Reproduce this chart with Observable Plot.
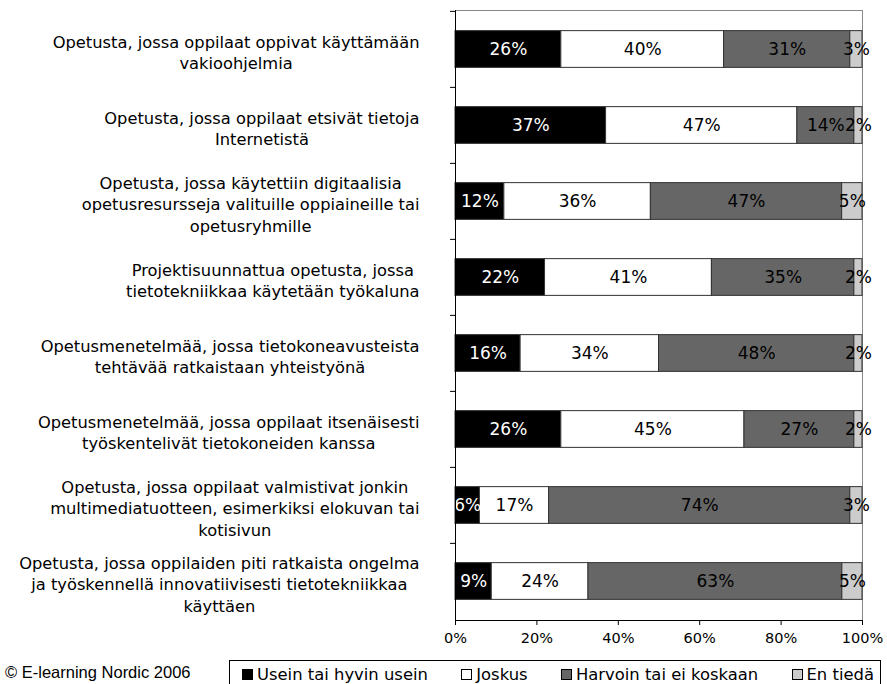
<!DOCTYPE html>
<html>
<head>
<meta charset="utf-8">
<script src="https://cdn.jsdelivr.net/npm/d3@7"></script>
<script src="https://cdn.jsdelivr.net/npm/@observablehq/plot@0.6"></script>
<style>
  html, body { margin: 0; padding: 0; background: #fff; }
  body { width: 887px; height: 684px; overflow: hidden; font-family: "DejaVu Sans", Verdana, sans-serif; }
  #chart svg { display: block; }
  #foot { position: relative; height: 32px; }
  #caption { position: absolute; left: 5px; top: 11px; line-height: 19px; font-size: 16.5px; font-family: "Liberation Sans", Arial, sans-serif; color: #000; white-space: nowrap; }
  #legend { position: absolute; left: 229px; top: 8px; width: 652px; height: 28px; border: 1px solid #000; box-sizing: border-box; display: flex; align-items: center; justify-content: space-between; font-size: 16.4px; padding-left: 12px; padding-right: 6px; }
  .item { display: flex; align-items: center; white-space: nowrap; }
  .sw { width: 11px; height: 11px; border: 1px solid #000; margin-right: 4px; box-sizing: border-box; }
</style>
</head>
<body>
<div id="chart"></div>
<div id="foot">
  <div id="caption">© E-learning Nordic 2006</div>
  <div id="legend"></div>
</div>
<script>
const categories = [
  "Opetusta, jossa oppilaat oppivat käyttämään\nvakioohjelmia",
  "Opetusta, jossa oppilaat etsivät tietoja\nInternetistä",
  "Opetusta, jossa käytettiin digitaalisia\nopetusresursseja valituille oppiaineille tai\nopetusryhmille",
  "Projektisuunnattua opetusta, jossa\ntietotekniikkaa käytetään työkaluna",
  "Opetusmenetelmää, jossa tietokoneavusteista\ntehtävää ratkaistaan yhteistyönä",
  "Opetusmenetelmää, jossa oppilaat itsenäisesti\ntyöskentelivät tietokoneiden kanssa",
  "Opetusta, jossa oppilaat valmistivat jonkin\nmultimediatuotteen, esimerkiksi elokuvan tai\nkotisivun",
  "Opetusta, jossa oppilaiden piti ratkaista ongelma\nja työskennellä innovatiivisesti tietotekniikkaa\nkäyttäen"
];
const seriesNames = ["Usein tai hyvin usein", "Joskus", "Harvoin tai ei koskaan", "En tiedä"];
const usein   = [26, 37, 12, 22, 16, 26, 6, 9];
const joskus  = [40, 47, 36, 41, 34, 45, 17, 24];
const harvoin = [31, 14, 47, 35, 48, 27, 74, 63];
const entieda = [3, 2, 5, 2, 2, 2, 3, 5];
const xTicks = [0, 0.2, 0.4, 0.6, 0.8, 1];
const colors = ["#000000", "#ffffff", "#666666", "#cccccc"];
const textColors = ["#ffffff", "#000000", "#000000", "#000000"];

const seriesValues = [usein, joskus, harvoin, entieda];
const data = [];
categories.forEach((c, i) => {
  seriesNames.forEach((s, j) => {
    data.push({cat: c, series: s, value: seriesValues[j][i], tcolor: textColors[j]});
  });
});

const W = 887, H = 652, ML = 455, MR = 25, MT = 10, MB = 32;
const step = (H - MT - MB) / categories.length;
const barH = 37;
const inset = (step - barH) / 2;
const fontFam = '"DejaVu Sans", Verdana, sans-serif';
const labelSize = 16.3;

const ctx = document.createElement("canvas").getContext("2d");
ctx.font = labelSize + "px " + fontFam;
const labelMarks = categories.map(c => {
  const w = Math.max(...c.split("\n").map(l => ctx.measureText(l).width));
  return Plot.text([c], {
    x: () => 0, y: d => d, text: d => d,
    textAnchor: "middle", lineAnchor: "middle", lineHeight: 1.32,
    dx: -(36 + w / 2), dy: 2, fontSize: labelSize, fill: "#000"
  });
});

const chart = Plot.plot({
  width: W, height: H,
  marginLeft: ML, marginRight: MR, marginTop: MT, marginBottom: MB,
  style: {fontFamily: fontFam, fontSize: "14.5px", overflow: "visible"},
  x: {domain: [0, 1], axis: null, label: null},
  y: {domain: categories, padding: 0, axis: null, label: null},
  color: {domain: seriesNames, range: colors},
  marks: [
    Plot.frame({stroke: "#888"}),
    Plot.barX(data, Plot.stackX({
      x: "value", y: "cat", z: "series", fill: "series", offset: "normalize",
      stroke: "#333", strokeWidth: 1, insetTop: inset, insetBottom: inset
    })),
    Plot.text(data, Plot.stackX({
      x: "value", y: "cat", z: "series", offset: "normalize",
      text: d => d.value + "%", fill: "tcolor", fontSize: 17
    })),
    Plot.ruleY(categories, {y: d => d, x1: -5 / (W - ML - MR), x2: 0, dy: -step / 2, stroke: "#000"}),
    Plot.ruleX([0], {stroke: "#000"}),
    Plot.axisX({ticks: xTicks, tickFormat: d => Math.round(d * 100) + "%", tickSize: 5, tickPadding: 7, fontSize: 14.5, label: null}),
    Plot.frame({anchor: "bottom", stroke: "#000"}),
    ...labelMarks
  ]
});
document.getElementById("chart").appendChild(chart);

const legend = document.getElementById("legend");
seriesNames.forEach((s, j) => {
  const it = document.createElement("div");
  it.className = "item";
  const sw = document.createElement("span");
  sw.className = "sw";
  sw.style.background = colors[j];
  it.appendChild(sw);
  it.appendChild(document.createTextNode(s));
  legend.appendChild(it);
});
</script>
</body>
</html>
